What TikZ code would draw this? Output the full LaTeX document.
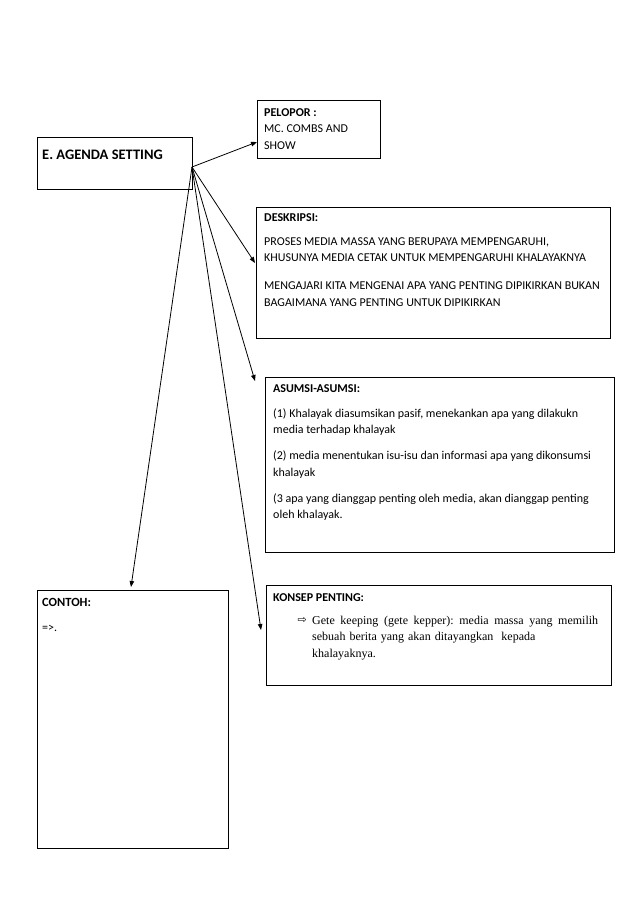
\documentclass[tikz,border=0pt]{standalone}
\usepackage{fontspec}
\setmainfont{Carlito}
\newfontfamily\serifb{Liberation Serif}
\newfontfamily\symb{DejaVu Sans}
\usepackage{tikz}
\usetikzlibrary{arrows.meta,calc,positioning}
\tikzstyle{panel}=[draw, line width=0.8pt, anchor=north west,
                   inner sep=0pt, outer sep=0pt]
\tikzstyle{edge} =[line width=0.8pt,
                   -{Triangle[length=6pt,width=4.5pt]}]
\tikzstyle{txt}  =[anchor=north west, inner sep=0pt, align=left,
                   font=\fontsize{12}{16.5}\selectfont]

\begin{document}
\begin{tikzpicture}[x=1pt, y=-1pt]
        \useasboundingbox (0,0) rectangle (638,903);

        % boxes
        \node[panel, minimum width=155pt, minimum height=52pt]  (agenda)    at (37,137)  {};
        \node[panel, minimum width=123pt, minimum height=58pt]  (pelopor)   at (257,100) {};
        \node[panel, minimum width=354pt, minimum height=131pt] (deskripsi) at (256,207) {};
        \node[panel, minimum width=349pt, minimum height=175pt] (asumsi)    at (265,377) {};
        \node[panel, minimum width=345pt, minimum height=100pt] (konsep)    at (266,585) {};
        \node[panel, minimum width=191pt, minimum height=258pt] (contoh)    at (37,590)  {};

        % texts
        \node[txt, font=\bfseries\fontsize{14.5}{16}\selectfont] (agendaT) at (42,150) {E. AGENDA SETTING};
        \node[txt] (peloporT) at (264,108) {\textbf{PELOPOR :}\\MC. COMBS AND\\SHOW};
        \node[txt] (deskripsiT) at (264,213) {\textbf{DESKRIPSI:}\\[7.5pt]
                PROSES MEDIA MASSA YANG BERUPAYA MEMPENGARUHI,\\
                KHUSUNYA MEDIA CETAK UNTUK MEMPENGARUHI KHALAYAKNYA\\[11.5pt]
                MENGAJARI KITA MENGENAI APA YANG PENTING DIPIKIRKAN BUKAN\\
                BAGAIMANA YANG PENTING UNTUK DIPIKIRKAN};
        \node[txt] (asumsiT) at (273,384) {\textbf{ASUMSI-ASUMSI:}\\[8.5pt]
                (1) Khalayak diasumsikan pasif, menekankan apa yang dilakukn\\
                media terhadap khalayak\\[9.5pt]
                (2) media menentukan isu-isu dan informasi apa yang dikonsumsi\\
                khalayak\\[9.5pt]
                (3 apa yang dianggap penting oleh media, akan dianggap penting\\
                oleh khalayak.};
        \node[txt] (konsepT) at (273,593) {\textbf{KONSEP PENTING:}};
        \node[txt, font=\serifb\fontsize{12}{16.5}\selectfont, text width=286pt] (konsepB) at (312,615.5) {%
                \hbox to 286pt{Gete\hfill keeping\hfill (gete\hfill kepper):\hfill media\hfill massa\hfill yang\hfill memilih}\\
                sebuah berita yang akan ditayangkan\ \ kepada\\
                khalayaknya.};
        \node[anchor=base east, inner sep=0pt, font=\symb\fontsize{11}{11}\selectfont] (konsepA)
                at ($(konsepB.north west)+(-5,8.2)$) {⇨};
        \node[txt, font=\bfseries\fontsize{12.5}{16}\selectfont] (contohT) at (42,598) {CONTOH:};
        \node[anchor=base west, inner sep=0pt, font=\fontsize{12}{16}\selectfont] (contohB) at (42,631) {=>.};

        % arrow ends
        \coordinate (src)         at ($(agenda.north east)+(0,30)$);
        \coordinate (peloporIn)   at ($(pelopor.north west)+(0,42)$);
        \coordinate (deskripsiIn) at ($(deskripsi.north west)+(-1,56)$);
        \coordinate (asumsiIn)    at ($(asumsi.north west)+(-10,4)$);
        \coordinate (konsepIn)    at ($(konsep.north west)+(-5,45)$);
        \coordinate (contohIn)    at ($(contoh.north west)+(94,-3)$);

        \foreach \t in {peloporIn,deskripsiIn,asumsiIn,konsepIn,contohIn}{
            \draw[edge] (src) -- (\t);
        }
\end{tikzpicture}
\end{document}
